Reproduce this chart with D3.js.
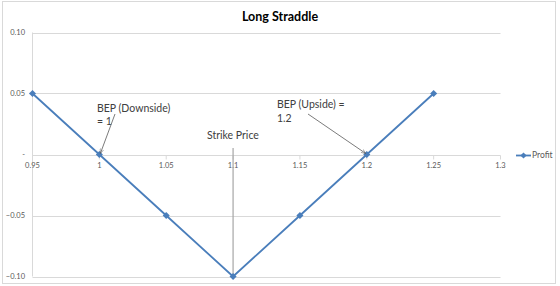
<!DOCTYPE html>
<html>
<head>
<meta charset="utf-8">
<script src="https://cdn.jsdelivr.net/npm/d3@7"></script>
<style>
  body { margin: 0; background: #fff; }
  svg { display: block; font-family: Lato, "Open Sans", sans-serif; }
</style>
</head>
<body>
<div id="chart"></div>
<script>
// data
var prices = [0.95, 1, 1.05, 1.1, 1.15, 1.2, 1.25];
var profit = [0.05, 0, -0.05, -0.10, -0.05, 0, 0.05];
var xTicks = [0.95, 1, 1.05, 1.1, 1.15, 1.2, 1.25, 1.3];
var yTicks = [0.10, 0.05, 0, -0.05, -0.10];

var W = 560, H = 286;
var svg = d3.select("#chart").append("svg").attr("width", W).attr("height", H);

// chart frame
svg.append("rect").attr("x", 2.5).attr("y", 1.5).attr("width", 553).attr("height", 282)
  .attr("fill", "#fff").attr("stroke", "#d9d9d9");

var x = d3.scaleLinear().domain([0.95, 1.3]).range([32.5, 500.5]);
var y = d3.scaleLinear().domain([-0.10, 0.10]).range([276.5, 32.5]);

// horizontal gridlines
svg.append("g").selectAll("line").data(yTicks).enter().append("line")
  .attr("x1", x(0.95)).attr("x2", x(1.3))
  .attr("y1", function(d){ return Math.round(y(d)) + 0.5; })
  .attr("y2", function(d){ return Math.round(y(d)) + 0.5; })
  .attr("stroke", "#d9d9d9").attr("stroke-width", 1);

// vertical axis line
svg.append("line").attr("x1", x(0.95)).attr("x2", x(0.95))
  .attr("y1", y(0.10)).attr("y2", y(-0.10)).attr("stroke", "#d9d9d9");

// y labels
svg.append("g").selectAll("text").data(yTicks).enter().append("text")
  .attr("x", 25).attr("y", function(d){ return y(d); }).attr("dy", "0.35em")
  .attr("text-anchor", "end").attr("font-size", "7.5px").attr("fill", "#595959")
  .text(function(d){ return d === 0 ? "-" : d3.format(".2f")(d); });

// x axis at zero with ticks
var y0 = Math.round(y(0)) + 0.5;
svg.append("g").selectAll("line").data(xTicks).enter().append("line")
  .attr("x1", function(d){ return x(d); }).attr("x2", function(d){ return x(d); })
  .attr("y1", y0).attr("y2", y0 + 4).attr("stroke", "#d9d9d9");
svg.append("g").selectAll("text").data(xTicks).enter().append("text")
  .attr("x", function(d){ return x(d); }).attr("y", y0 + 10).attr("dy", "0.35em")
  .attr("text-anchor", "middle").attr("font-size", "7.5px").attr("fill", "#595959")
  .text(function(d){ return d3.format("")(+d.toFixed(2)); });

// strike price callout line
svg.append("line").attr("x1", x(1.1)).attr("x2", x(1.1))
  .attr("y1", 148).attr("y2", y(-0.10)).attr("stroke", "#a6a6a6").attr("stroke-width", 1.2);

// title
svg.append("text").attr("x", 280).attr("y", 21).attr("text-anchor", "middle")
  .attr("font-size", "12.5px").attr("font-weight", "bold").attr("fill", "#000")
  .text("Long Straddle");

// series
var blue = "#4a7ebb";
var pts = prices.map(function(p, i){ return [p, profit[i]]; });
svg.append("path").datum(pts)
  .attr("d", d3.line().x(function(d){ return x(d[0]); }).y(function(d){ return y(d[1]); }))
  .attr("fill", "none").attr("stroke", blue).attr("stroke-width", 1.8);
svg.append("g").selectAll("rect").data(pts).enter().append("rect")
  .attr("x", -2.5).attr("y", -2.5).attr("width", 5).attr("height", 5)
  .attr("transform", function(d){ return "translate(" + x(d[0]) + "," + y(d[1]) + ") rotate(45)"; })
  .attr("fill", blue);

// annotation arrows
var defs = svg.append("defs");
defs.append("marker").attr("id", "arr").attr("viewBox", "0 0 10 10")
  .attr("refX", 10).attr("refY", 5).attr("markerWidth", 6).attr("markerHeight", 6)
  .attr("orient", "auto")
  .append("path").attr("d", "M0,1 L10,5 L0,9").attr("fill", "none").attr("stroke", "#595959");

svg.append("line").attr("x1", 115).attr("y1", 114).attr("x2", x(1) + 1).attr("y2", y(0) - 1)
  .attr("stroke", "#595959").attr("stroke-width", 0.8).attr("marker-end", "url(#arr)");
svg.append("line").attr("x1", 308).attr("y1", 114).attr("x2", x(1.2) - 1).attr("y2", y(0) - 1)
  .attr("stroke", "#595959").attr("stroke-width", 0.8).attr("marker-end", "url(#arr)");

// annotation labels
var notes = [
  {t: "BEP (Downside)", x: 97, y: 112},
  {t: "= 1", x: 97, y: 125},
  {t: "Strike Price", x: 207, y: 139},
  {t: "BEP (Upside) =", x: 277, y: 108},
  {t: "1.2", x: 277, y: 122}
];
svg.append("g").selectAll("text").data(notes).enter().append("text")
  .attr("x", function(d){ return d.x; }).attr("y", function(d){ return d.y; })
  .attr("font-size", "10.5px").attr("fill", "#404040")
  .text(function(d){ return d.t; });

// legend
svg.append("line").attr("x1", 516).attr("x2", 531).attr("y1", y0).attr("y2", y0)
  .attr("stroke", blue).attr("stroke-width", 1.8);
svg.append("rect").attr("x", -2.2).attr("y", -2.2).attr("width", 4.4).attr("height", 4.4)
  .attr("transform", "translate(523.5," + y0 + ") rotate(45)").attr("fill", blue);
svg.append("text").attr("x", 532).attr("y", y0).attr("dy", "0.35em")
  .attr("font-size", "8.5px").attr("fill", "#595959").text("Profit");
</script>
</body>
</html>
